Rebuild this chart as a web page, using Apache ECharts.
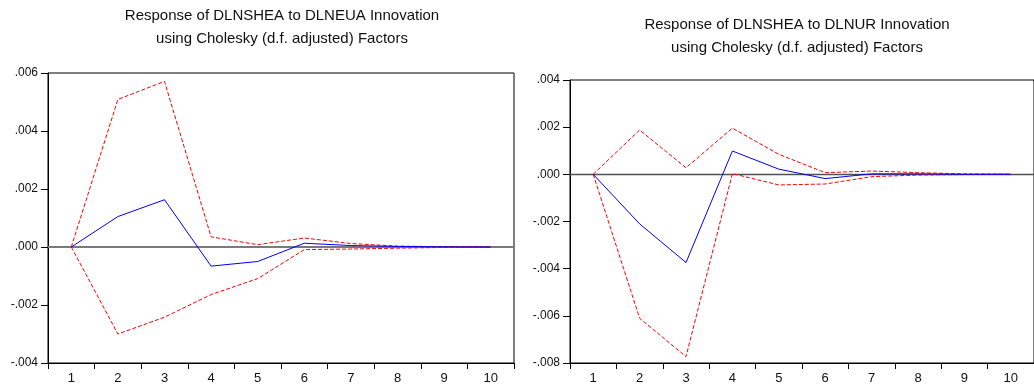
<!DOCTYPE html>
<html>
<head>
<meta charset="utf-8">
<script src="https://cdn.jsdelivr.net/npm/echarts@6/dist/echarts.min.js"></script>
<style>
  html, body { margin: 0; padding: 0; background: #fff; }
  #chart { width: 1034px; height: 390px; }
</style>
</head>
<body>
<div id="chart"></div>
<script>
// Impulse-response horizons
const periods = ['1', '2', '3', '4', '5', '6', '7', '8', '9', '10'];

// Response of DLNSHEA to DLNEUA innovation (point estimate and ±2 S.E. bands)
const respEUA  = [0, 0.00105, 0.00163, -0.00066, -0.00050, 0.00013, 0.00005, 0.00002, 0.000005, 0];
const upperEUA = [0, 0.00509, 0.00571, 0.00035, 0.00008, 0.00031, 0.00012, 0.00003, 0.00001, 0];
const lowerEUA = [0, -0.00300, -0.00242, -0.00164, -0.00109, -0.00009, -0.00007, -0.00004, -0.000015, 0];

// Response of DLNSHEA to DLNUR innovation (point estimate and ±2 S.E. bands)
const respUR  = [0, -0.00210, -0.00374, 0.00099, 0.00022, -0.00018, 0.00002, 0.00002, 0, 0];
const upperUR = [0, 0.00188, 0.00028, 0.00196, 0.00085, 0.00007, 0.00014, 0.00007, 0.00002, 0.00001];
const lowerUR = [0, -0.00610, -0.00773, 0.00003, -0.00045, -0.00041, -0.00010, -0.00003, -0.00001, 0];

// Y axis ranges and tick steps
const yRangeEUA = { min: -0.004, max: 0.006, step: 0.002 };
const yRangeUR  = { min: -0.008, max: 0.004, step: 0.002 };

const titleEUA = 'Response of DLNSHEA to DLNEUA Innovation\nusing Cholesky (d.f. adjusted) Factors';
const titleUR  = 'Response of DLNSHEA to DLNUR Innovation\nusing Cholesky (d.f. adjusted) Factors';

const FONT = '"Liberation Sans", Arial, Helvetica, sans-serif';

function tickText(v) {
  let s = v.toFixed(3);
  if (s === '-0.000') s = '0.000';
  return s.replace('0.', '.');
}

function makeGrid(pos) {
  return Object.assign({
    show: true, borderColor: '#000', borderWidth: 1, containLabel: false
  }, pos);
}

function makeX(idx) {
  return {
    type: 'category', gridIndex: idx, data: periods, boundaryGap: true,
    axisLine: { show: true, onZero: false, lineStyle: { color: '#000', width: 1 } },
    axisTick: { show: true, inside: false, length: 6, lineStyle: { color: '#000' } },
    axisLabel: { color: '#111', fontFamily: FONT, fontSize: 13, margin: 9 },
    splitLine: { show: false }
  };
}

function makeY(idx, r) {
  return {
    type: 'value', gridIndex: idx, min: r.min, max: r.max, interval: r.step,
    axisLine: { show: true, onZero: false, lineStyle: { color: '#000', width: 1 } },
    axisTick: { show: true, inside: false, length: 7, lineStyle: { color: '#000' } },
    axisLabel: { color: '#111', fontFamily: FONT, fontSize: 12, margin: 10, formatter: tickText },
    splitLine: { show: false }
  };
}

function band(data, idx) {
  return {
    type: 'line', xAxisIndex: idx, yAxisIndex: idx, data: data,
    symbol: 'none', z: 3, animation: false, silent: true,
    lineStyle: { color: '#ff0000', width: 1, type: [4, 2] }
  };
}

function resp(data, idx, zeroColor, zeroWidth) {
  return {
    type: 'line', xAxisIndex: idx, yAxisIndex: idx, data: data,
    symbol: 'none', z: 4, animation: false, silent: true,
    lineStyle: { color: '#0000ff', width: 1 },
    markLine: {
      silent: true, symbol: 'none', z: 1, animation: false,
      label: { show: false },
      lineStyle: { color: zeroColor, width: zeroWidth, type: 'solid' },
      data: [{ yAxis: 0 }]
    }
  };
}

const chart = echarts.init(document.getElementById('chart'), null, { renderer: 'canvas' });
chart.setOption({
  backgroundColor: '#fff',
  animation: false,
  title: [
    { text: titleEUA, left: 282, top: 4, textAlign: 'center', padding: 0,
      textStyle: { fontFamily: FONT, fontSize: 15, fontWeight: 'normal', color: '#111', lineHeight: 23 } },
    { text: titleUR, left: 797, top: 13, textAlign: 'center', padding: 0,
      textStyle: { fontFamily: FONT, fontSize: 15, fontWeight: 'normal', color: '#111', lineHeight: 23 } }
  ],
  grid: [
    makeGrid({ left: 48, right: 520, top: 73, bottom: 27 }),
    makeGrid({ left: 570, right: -8, top: 80, bottom: 27 })
  ],
  xAxis: [makeX(0), makeX(1)],
  yAxis: [makeY(0, yRangeEUA), makeY(1, yRangeUR)],
  series: [
    resp(respEUA, 0, '#7a7a7a', 2),
    band(upperEUA, 0),
    band(lowerEUA, 0),
    resp(respUR, 1, '#505050', 1.3),
    band(upperUR, 1),
    band(lowerUR, 1)
  ]
});
</script>
</body>
</html>
